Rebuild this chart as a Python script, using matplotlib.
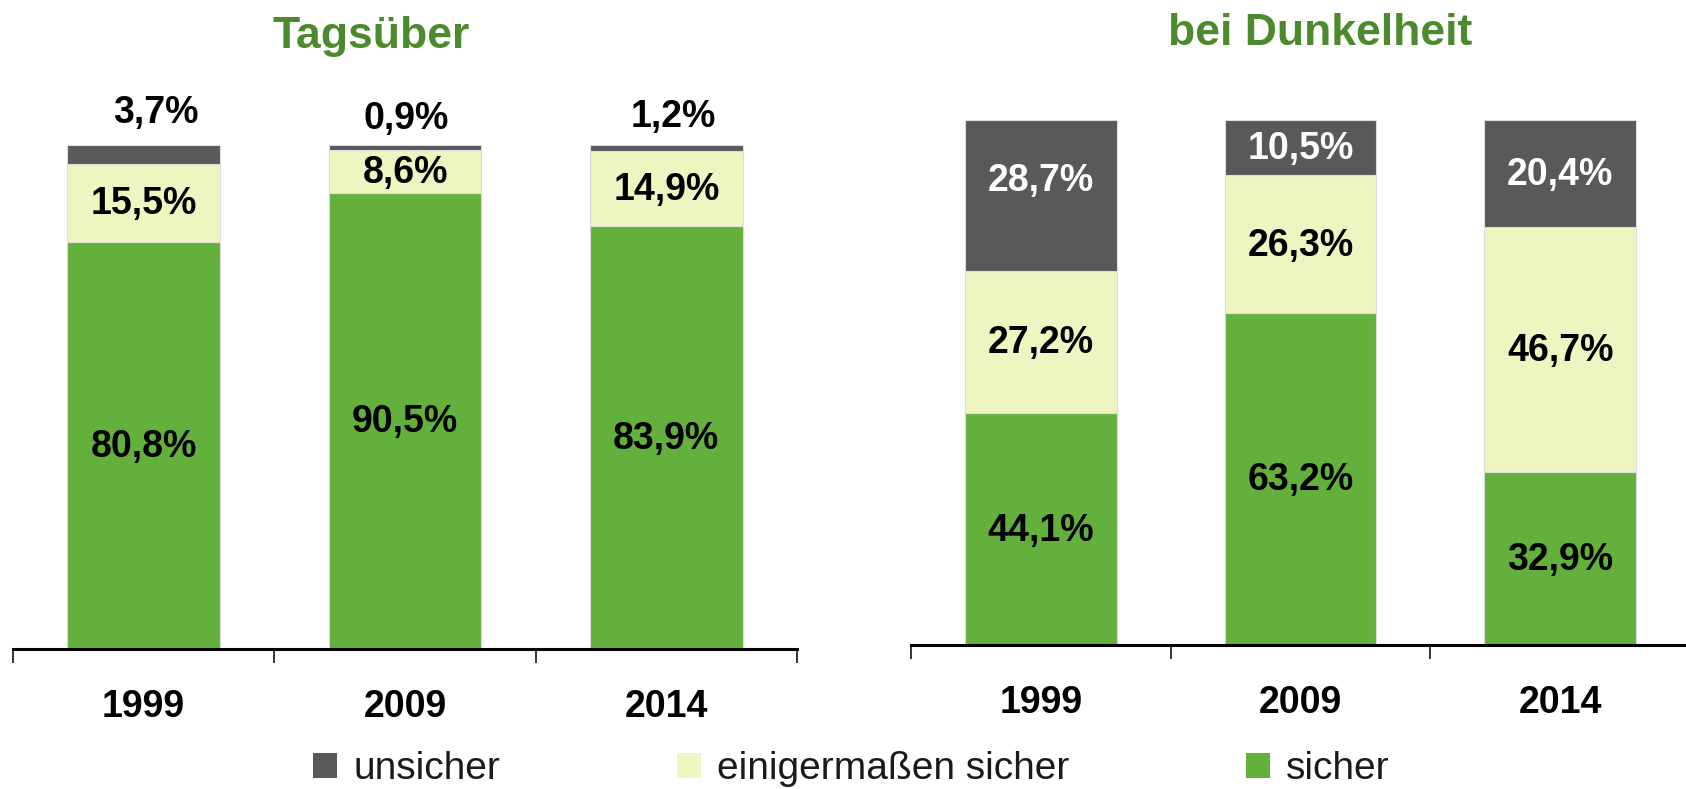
import matplotlib
matplotlib.use("Agg")
import matplotlib.pyplot as plt
from matplotlib.patches import Patch

# ---------------- data ----------------
years = ["1999", "2009", "2014"]
series_names = ["unsicher", "einigermaßen sicher", "sicher"]

tag_sicher = [80.8, 90.5, 83.9]
tag_einiger = [15.5, 8.6, 14.9]
tag_unsicher = [3.7, 0.9, 1.2]

dunkel_sicher = [44.1, 63.2, 32.9]
dunkel_einiger = [27.2, 26.3, 46.7]
dunkel_unsicher = [28.7, 10.5, 20.4]

titles = ["Tagsüber", "bei Dunkelheit"]

# ---------------- style ----------------
C_UNS = "#595959"
C_EIN = "#EEF5C0"
C_SIC = "#64B03D"
C_TITLE = "#4B8A2D"
FONT = ["Liberation Sans Narrow", "Liberation Sans", "DejaVu Sans"]
plt.rcParams["font.family"] = FONT

W, H = 1686, 789
fig = plt.figure(figsize=(W / 100, H / 100), dpi=100)


def fx(px):
    return px / W


def fy(py):
    return (H - py) / H


ax_l = fig.add_axes([fx(13), fy(649), fx(797) - fx(13), (649 - 145) / H])
ax_r = fig.add_axes([fx(911), fy(645), fx(1690) - fx(911), (645 - 120) / H])

BAR_W = 0.585
LABEL_FS = 27


def draw_panel(ax, sicher, einiger, unsicher, unsicher_outside, offsets):
    x = list(range(len(years)))
    kw = dict(width=BAR_W, edgecolor="#dcdcdc", linewidth=0.8)
    ax.bar(x, sicher, color=C_SIC, **kw)
    ax.bar(x, einiger, bottom=sicher, color=C_EIN, **kw)
    bot3 = [a + b for a, b in zip(sicher, einiger)]
    ax.bar(x, unsicher, bottom=bot3, color=C_UNS, **kw)

    def lab(xi, yc, val, color, key):
        dx, dy = offsets.get(key, (0, -1))
        ax.annotate(f"{val:.1f}%".replace(".", ","), (xi, yc),
                    xytext=(dx, dy), textcoords="offset points",
                    ha="center", va="center", fontsize=LABEL_FS,
                    fontweight="bold", color=color, annotation_clip=False)

    for i in x:
        lab(i, sicher[i] / 2, sicher[i], "black", ("s", i))
        lab(i, sicher[i] + einiger[i] / 2, einiger[i], "black", ("e", i))
        if unsicher_outside:
            lab(i, bot3[i] + unsicher[i], unsicher[i], "black", ("u", i))
        else:
            lab(i, bot3[i] + unsicher[i] / 2, unsicher[i], "white", ("u", i))

    ax.set_xlim(-0.5, 2.5)
    ax.set_ylim(0, 100)
    ax.set_yticks([])
    for s in ["top", "left", "right"]:
        ax.spines[s].set_visible(False)
    ax.spines["bottom"].set_linewidth(2.2)
    ax.spines["bottom"].set_color("black")
    ax.set_xticks([-0.5, 0.5, 1.5, 2.5])
    ax.set_xticklabels([])
    ax.tick_params(axis="x", which="major", length=10, width=1.1,
                   direction="out", color="black")
    ax.set_xticks(x, years, minor=True)
    ax.tick_params(axis="x", which="minor", length=0, pad=29,
                   labelsize=27)
    for t in ax.get_xticklabels(minor=True):
        t.set_fontweight("bold")
    ax.patch.set_alpha(0)


off_l = {("u", 0): (9, 23), ("u", 1): (1, 19), ("u", 2): (5, 20)}
off_r = {("u", 0): (0, 10)}
draw_panel(ax_l, tag_sicher, tag_einiger, tag_unsicher, True, off_l)
draw_panel(ax_r, dunkel_sicher, dunkel_einiger, dunkel_unsicher, False, off_r)

fig.text(fx(371), fy(48), titles[0], ha="center", va="baseline",
         fontsize=32, fontweight="bold", color=C_TITLE)
fig.text(fx(1320), fy(45), titles[1], ha="center", va="baseline",
         fontsize=32, fontweight="bold", color=C_TITLE)

handles = [Patch(facecolor=C_UNS), Patch(facecolor=C_EIN), Patch(facecolor=C_SIC)]
fig.legend(handles, series_names, loc="center left",
           bbox_to_anchor=(fx(313), fy(769)), ncol=3, frameon=False,
           fontsize=28, handlelength=0.62, handleheight=0.62,
           handletextpad=0.41, columnspacing=4.55, borderpad=0,
           borderaxespad=0, labelcolor="#1a1a1a")

fig.savefig("out.png", dpi=100)
